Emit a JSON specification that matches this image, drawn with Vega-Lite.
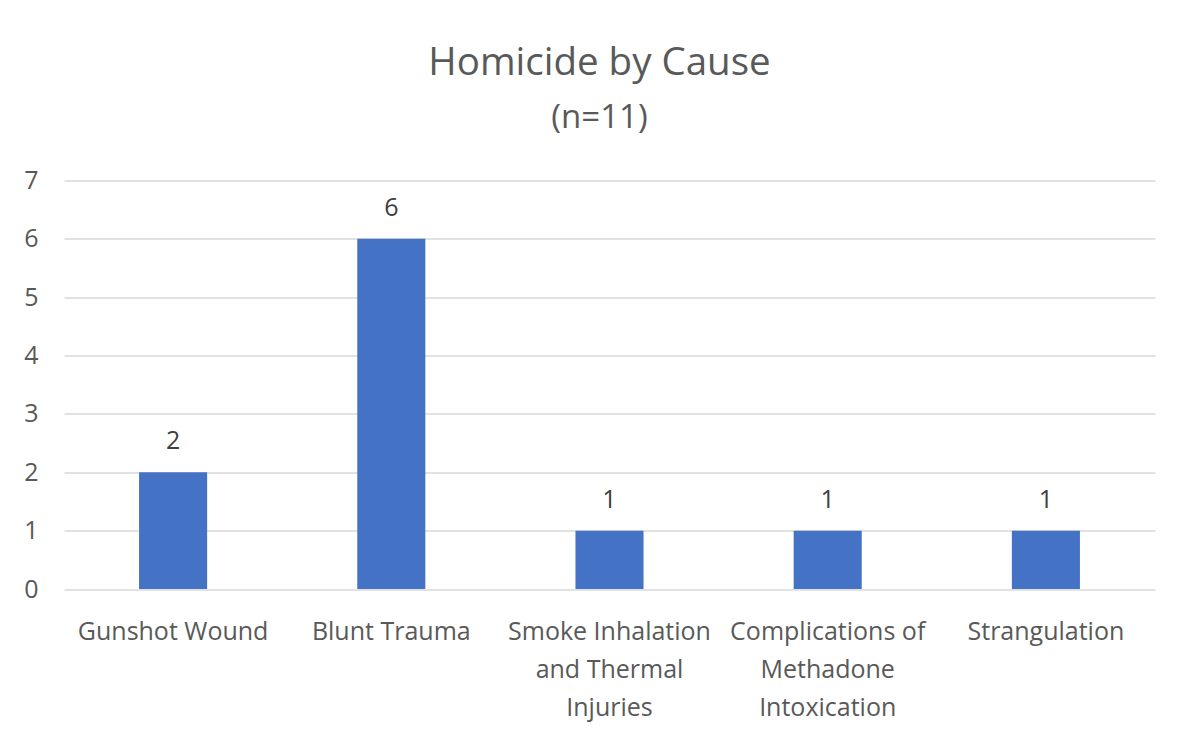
{
  "$schema": "https://vega.github.io/schema/vega-lite/v6.json",
  "autosize": {"type": "none"},
  "padding": {"left": 64, "top": 180.5, "right": 30, "bottom": 153},
  "width": 1091,
  "height": 408.5,
  "background": "white",
  "title": {
    "text": "Homicide by Cause",
    "subtitle": "(n=11)",
    "anchor": "middle",
    "frame": "group",
    "dx": -10,
    "font": "Open Sans",
    "fontSize": 38.5,
    "fontWeight": "normal",
    "color": "#595959",
    "subtitleFont": "Open Sans",
    "subtitleFontSize": 33,
    "subtitleColor": "#595959",
    "subtitlePadding": 18,
    "offset": 33
  },
  "data": {
    "values": [
      {"cause": "Gunshot Wound", "count": 2},
      {"cause": "Blunt Trauma", "count": 6},
      {"cause": "Smoke Inhalation and Thermal Injuries", "count": 1},
      {"cause": "Complications of Methadone Intoxication", "count": 1},
      {"cause": "Strangulation", "count": 1}
    ]
  },
  "config": {
    "view": {"stroke": null},
    "font": "Open Sans"
  },
  "encoding": {
    "x": {
      "field": "cause",
      "type": "nominal",
      "sort": null,
      "scale": {"paddingInner": 0.688, "paddingOuter": 0.344},
      "axis": {
        "title": null,
        "labelAngle": 0,
        "labelFont": "Open Sans",
        "labelFontSize": 25,
        "labelColor": "#595959",
        "labelPadding": 30,
        "labelBaseline": "top",
        "labelLineHeight": 38,
        "labelLimit": 0,
        "ticks": false,
        "domain": false,
        "labelExpr": "datum.value == 'Smoke Inhalation and Thermal Injuries' ? ['Smoke Inhalation', 'and Thermal', 'Injuries'] : datum.value == 'Complications of Methadone Intoxication' ? ['Complications of', 'Methadone', 'Intoxication'] : datum.value"
      }
    },
    "y": {
      "field": "count",
      "type": "quantitative",
      "scale": {"domain": [0, 7], "nice": false},
      "axis": {
        "title": null,
        "values": [0, 1, 2, 3, 4, 5, 6, 7],
        "labelFont": "Open Sans",
        "labelFontSize": 25,
        "labelColor": "#595959",
        "labelPadding": 26,
        "ticks": false,
        "domain": false,
        "grid": true,
        "gridColor": "#d9d9d9",
        "gridWidth": 1.5
      }
    }
  },
  "layer": [
    {"mark": {"type": "bar", "color": "#4472C4"}},
    {
      "mark": {
        "type": "text",
        "font": "Open Sans",
        "fontSize": 25,
        "color": "#404040",
        "baseline": "alphabetic",
        "dy": -23
      },
      "encoding": {"text": {"field": "count", "type": "quantitative"}}
    }
  ]
}
